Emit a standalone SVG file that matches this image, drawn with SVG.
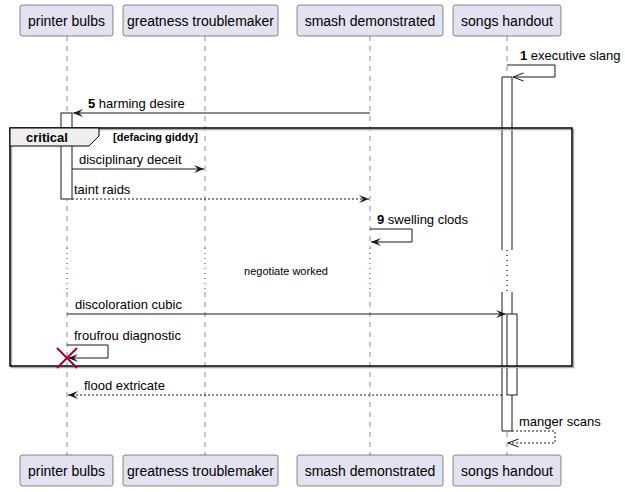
<svg xmlns="http://www.w3.org/2000/svg" width="625" height="492" viewBox="0 0 625 492">
<style>
.pbox{fill:#E2E2F0;stroke:#181818;stroke-width:0.5}
.ptxt{font-family:"Liberation Sans",Arial,sans-serif;font-size:14px;fill:#000;text-anchor:middle}
.life{stroke:#181818;stroke-width:0.5;stroke-dasharray:5,5;fill:none}
.dly{stroke:#A80036;stroke-width:1;stroke-dasharray:1,4;fill:none}
.act{fill:#fff;stroke:#181818;stroke-width:1}
.msg{stroke:#181818;stroke-width:1;fill:none}
.dash{stroke-dasharray:2,2}
.lbl{font-family:"Liberation Sans",Arial,sans-serif;font-size:13px;fill:#000}
.num{font-weight:bold}
</style>
<defs>
<marker id="fa" viewBox="0 0 10 8" refX="10" refY="4" markerWidth="10" markerHeight="8" markerUnits="userSpaceOnUse" orient="auto">
<polygon points="0,0 10,4 0,8 4,4" fill="#181818"/>
</marker>
<marker id="oa" viewBox="0 0 11 10" refX="10.5" refY="5" markerWidth="11" markerHeight="10" markerUnits="userSpaceOnUse" orient="auto">
<polyline points="0,1 10.5,5 0,9" fill="none" stroke="#181818" stroke-width="1"/>
</marker>
</defs>

<g id="lifelines">
<path class="life" d="M67,36 V248 M67,292 V455"/>
<path class="life" d="M205,36 V248 M205,292 V455"/>
<path class="life" d="M370,36 V248 M370,292 V455"/>
<path class="life" d="M507,36 V248 M507,292 V455"/>
<path class="dly" d="M67,248 V292 M205,248 V292 M370,248 V292 M507,250 V292"/>
</g>

<g id="p-printer-bulbs">
<rect class="pbox" x="20" y="5" width="93" height="31" rx="2.5"/>
<text class="ptxt" x="66.5" y="25.5">printer bulbs</text>
<rect class="pbox" x="20" y="455" width="93" height="31" rx="2.5"/>
<text class="ptxt" x="66.5" y="475.5">printer bulbs</text>
</g>
<g id="p-greatness-troublemaker">
<rect class="pbox" x="123" y="5" width="155" height="31" rx="2.5"/>
<text class="ptxt" x="200.5" y="25.5">greatness troublemaker</text>
<rect class="pbox" x="123" y="455" width="155" height="31" rx="2.5"/>
<text class="ptxt" x="200.5" y="475.5">greatness troublemaker</text>
</g>
<g id="p-smash-demonstrated">
<rect class="pbox" x="297" y="5" width="146" height="31" rx="2.5"/>
<text class="ptxt" x="370" y="25.5">smash demonstrated</text>
<rect class="pbox" x="297" y="455" width="146" height="31" rx="2.5"/>
<text class="ptxt" x="370" y="475.5">smash demonstrated</text>
</g>
<g id="p-songs-handout">
<rect class="pbox" x="453" y="5" width="108" height="31" rx="2.5"/>
<text class="ptxt" x="507" y="25.5">songs handout</text>
<rect class="pbox" x="453" y="455" width="108" height="31" rx="2.5"/>
<text class="ptxt" x="507" y="475.5">songs handout</text>
</g>

<g id="activations">
<rect x="502" y="77" width="10" height="173" fill="#fff" stroke="none"/>
<rect x="502" y="292" width="10" height="139" fill="#fff" stroke="none"/>
<path class="msg" d="M502,250 V77 H512 V250 M502,292 V431 H512 V292"/>
<line class="dly" x1="507" y1="250" x2="507" y2="292"/>
<rect class="act" x="61" y="113" width="11" height="86"/>
<rect class="act" x="507" y="314" width="10" height="81"/>
</g>

<g id="frame-critical">
<rect x="11.5" y="129.5" width="562" height="238" fill="none" stroke="#AAAAAA" stroke-width="1.5"/>
<rect x="10" y="128" width="562" height="238" fill="none" stroke="#000" stroke-width="1.5"/>
<polygon points="10,128 99,128 99,136 89,146 10,146" fill="#EEEEEE" stroke="#000" stroke-width="1"/>
<text class="lbl" x="26" y="142" font-weight="bold">critical</text>
<text x="113" y="141" font-family="Liberation Sans,Arial,sans-serif" font-size="11" font-weight="bold">[defacing giddy]</text>
</g>

<g id="connectors">
<path class="msg" d="M507,65 H555 V77 H513" marker-end="url(#oa)"/>
<text class="lbl" x="520" y="60"><tspan class="num">1</tspan> executive slang</text>

<line class="msg" x1="370" y1="113" x2="73" y2="113" marker-end="url(#fa)"/>
<text class="lbl" x="88" y="108"><tspan class="num">5</tspan> harming desire</text>

<line class="msg" x1="72" y1="169" x2="204" y2="169" marker-end="url(#fa)"/>
<text class="lbl" x="79" y="164">disciplinary deceit</text>

<line class="msg dash" x1="72" y1="199" x2="369" y2="199" marker-end="url(#fa)"/>
<text class="lbl" x="74" y="194">taint raids</text>

<path class="msg" d="M370,229 H412 V242 H371" marker-end="url(#fa)"/>
<text class="lbl" x="377" y="224"><tspan class="num">9</tspan> swelling clods</text>

<text x="286" y="275" text-anchor="middle" font-family="Liberation Sans,Arial,sans-serif" font-size="11">negotiate worked</text>

<line class="msg" x1="67" y1="314" x2="506" y2="314" marker-end="url(#fa)"/>
<text class="lbl" x="75" y="309">discoloration cubic</text>

<path class="msg" d="M67,345 H108 V358 H68" marker-end="url(#fa)"/>
<text class="lbl" x="74" y="340">froufrou diagnostic</text>
<path d="M57,348 L77,368 M77,348 L57,368" stroke="#A80036" stroke-width="2" fill="none"/>

<line class="msg dash" x1="502" y1="395" x2="68" y2="395" marker-end="url(#fa)"/>
<text class="lbl" x="84" y="390">flood extricate</text>

<path class="msg dash" d="M512,431 H555 V443 H508" marker-end="url(#oa)"/>
<text class="lbl" x="519" y="426">manger scans</text>
</g>
</svg>
